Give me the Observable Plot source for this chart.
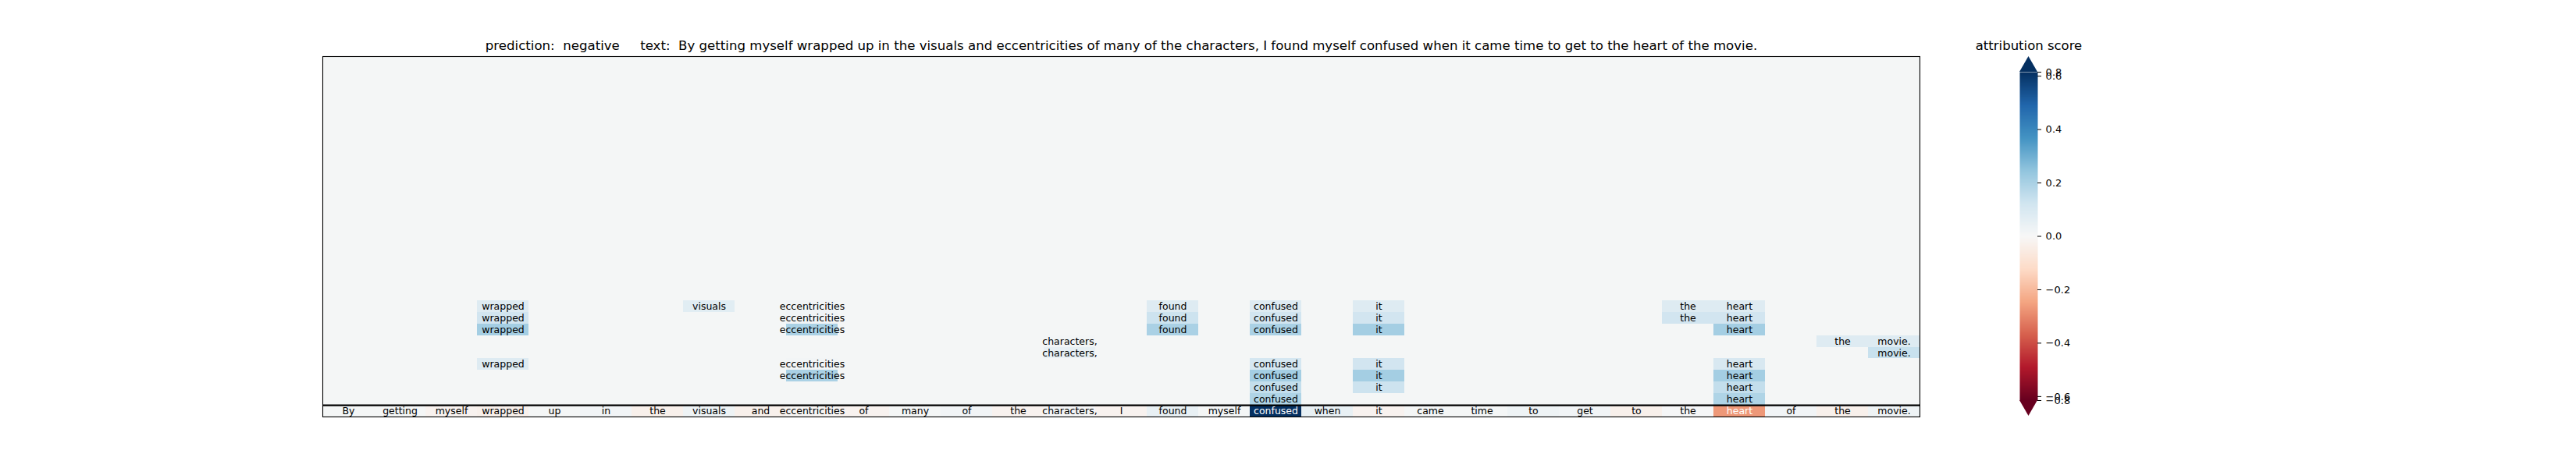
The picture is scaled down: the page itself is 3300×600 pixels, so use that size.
<!DOCTYPE html>
<html>
<head>
<meta charset="utf-8">
<script src="https://cdn.jsdelivr.net/npm/d3@7"></script>
<script src="https://cdn.jsdelivr.net/npm/@observablehq/plot@0.6"></script>
<style>
html, body { margin:0; padding:0; background:#fff; }
#wrap { position:relative; width:3300px; height:600px; background:#fff; }
#wrap svg { position:absolute; top:0; }
</style>
</head>
<body>
<div id="wrap"></div>
<script>
// Tokens of the sentence (columns, left to right)
const tokens = ["By","getting","myself","wrapped","up","in","the","visuals","and","eccentricities","of","many","of","the","characters,","I","found","myself","confused","when","it","came","time","to","get","to","the","heart","of","the","movie."];

// Attribution score of each token in the bottom row (the sentence itself)
const sentenceScores = [0.01,0.01,-0.02,-0.03,0.01,0.02,-0.03,0.03,-0.03,-0.01,-0.02,0.01,0.02,-0.02,0.005,-0.02,0.05,0.01,0.615,0.05,-0.02,0.01,0.01,0.03,0.02,-0.03,0.005,-0.27,0.02,-0.03,0.03];

// Highlighted cells in the rows above (row counted from the bottom, column = token index)
const attrRow   = [9,9,9,9,9,9,9,9, 8,8,8,8,8,8,8, 7,7,7,7,7,7, 6,6,6, 5,5, 4,4,4,4,4, 3,3,3,3, 2,2,2, 1,1];
const attrCol   = [3,7,9,16,18,20,26,27, 3,9,16,18,20,26,27, 3,9,16,18,20,27, 14,29,30, 14,30, 3,9,18,20,27, 9,18,20,27, 18,20,27, 18,27];
const attrScore = [0.08,0.07,0.02,0.08,0.08,0.08,0.08,0.08, 0.12,0.02,0.13,0.12,0.12,0.12,0.12, 0.21,0.2,0.2,0.2,0.21,0.21, 0.015,0.08,0.08, 0.05,0.14, 0.08,0.015,0.11,0.12,0.1, 0.2,0.21,0.21,0.21, 0.15,0.13,0.15, 0.19,0.19];

// Score of every other (empty) cell
const emptyScore = 0.01;
const nRows = 31;

// Colorbar ticks
const cbarTickPos  = [0.615, 0.6, 0.4, 0.2, 0, -0.2, -0.4, -0.6, -0.615];
const cbarTickText = ["0.8","0.6","0.4","0.2","0.0","\u22120.2","\u22120.4","\u22120.6","\u22120.8"];

const titleText = "prediction:\u00a0\u00a0negative\u00a0\u00a0\u00a0\u00a0\u00a0text:\u00a0\u00a0By getting myself wrapped up in the visuals and eccentricities of many of the characters, I found myself confused when it came time to get to the heart of the movie.";
const cbarTitle = "attribution score";

const vmax = 0.615;

// matplotlib RdBu (linear segments between the ColorBrewer stops)
const rdbuStops = ["#67001f","#b2182b","#d6604d","#f4a582","#fddbc7","#f7f7f7","#d1e5f0","#92c5de","#4393c3","#2166ac","#053061"];

// ---- build table ----
const grid = new Map();
for (let r = 1; r < nRows; r++) for (let c = 0; c < tokens.length; c++) grid.set(r + "," + c, {r, c, v: emptyScore, t: null});
tokens.forEach((t, c) => grid.set("0," + c, {r: 0, c, v: sentenceScores[c], t}));
attrRow.forEach((r, i) => grid.set(r + "," + attrCol[i], {r, c: attrCol[i], v: attrScore[i], t: tokens[attrCol[i]]}));
const cells = Array.from(grid.values());
const labels = cells.filter(d => d.t);

const color = {type: "linear", domain: [-vmax, vmax], interpolate: d3.piecewise(d3.interpolateRgb, rdbuStops), clamp: true};
const font = {fontFamily: "DejaVu Sans", background: "transparent", overflow: "visible"};

const main = Plot.plot({
  width: 3300, height: 600,
  marginLeft: 413, marginRight: 841, marginTop: 72, marginBottom: 66,
  x: {domain: [0, tokens.length], axis: null},
  y: {domain: [0, nRows], axis: null},
  color,
  style: font,
  marks: [
    Plot.rect(cells, {x1: "c", x2: d => d.c + 1, y1: "r", y2: d => d.r + 1, fill: "v", shapeRendering: "crispEdges"}),
    Plot.text(labels.filter(d => Math.abs(d.v) <= 0.25), {x: d => d.c + 0.5, y: d => d.r + 0.5, text: "t", fill: "black", fontSize: 12.5}),
    Plot.text(labels.filter(d => Math.abs(d.v) > 0.25), {x: d => d.c + 0.5, y: d => d.r + 0.5, text: "t", fill: "white", fontSize: 12.5}),
    Plot.ruleY([1], {stroke: "black", strokeWidth: 2.2}),
    Plot.frame({stroke: "black", strokeWidth: 1.1}),
    Plot.text([titleText], {text: d => d, frameAnchor: "top", lineAnchor: "bottom", dy: -9, fontSize: 16.6, fill: "black"})
  ]
});
main.style.left = "0px";

const ext = 0.0584;
const topTri = [{x: 0, y1: vmax, y2: vmax, v: vmax}, {x: 0.5, y1: vmax, y2: vmax + ext, v: vmax}, {x: 1, y1: vmax, y2: vmax, v: vmax}];
const botTri = [{x: 0, y1: -vmax, y2: -vmax, v: -vmax}, {x: 0.5, y1: -vmax, y2: -vmax - ext, v: -vmax}, {x: 1, y1: -vmax, y2: -vmax, v: -vmax}];
const ticks = cbarTickPos.map((p, i) => ({p, t: cbarTickText[i]}));

const cb = Plot.plot({
  width: 300, height: 600,
  marginLeft: 87, marginRight: 190, marginTop: 92, marginBottom: 87,
  x: {domain: [0, 1], axis: null},
  y: {domain: [-vmax, vmax], axis: null},
  color,
  style: font,
  marks: [
    Plot.raster({x1: 0, x2: 1, y1: -vmax, y2: vmax, width: 1, height: 420, fill: (x, y) => y, imageRendering: "auto"}),
    Plot.areaY(topTri, {x: "x", y1: "y1", y2: "y2", fill: "v"}),
    Plot.areaY(botTri, {x: "x", y1: "y1", y2: "y2", fill: "v"}),
    Plot.ruleY(ticks, {y: "p", x1: 1, x2: 1.22, stroke: "black", strokeWidth: 1}),
    Plot.text(ticks, {y: "p", x: 1.44, text: "t", textAnchor: "start", fontSize: 13, fill: "black"}),
    Plot.text([cbarTitle], {text: d => d, frameAnchor: "top", lineAnchor: "bottom", dy: -29, fontSize: 16.5, fill: "black"})
  ]
});
cb.style.left = "2500px";

document.getElementById("wrap").append(main, cb);
</script>
</body>
</html>
